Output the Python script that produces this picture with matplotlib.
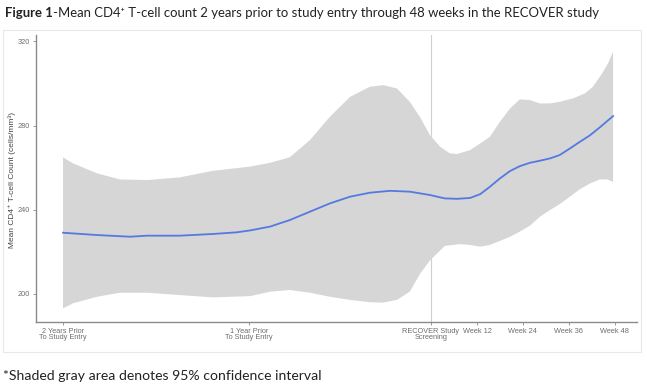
import matplotlib
matplotlib.use("Agg")
import matplotlib.pyplot as plt
from matplotlib.patches import Rectangle

# x positions in plot units (1 unit = 12 weeks on the study part of the axis)
tick_pos = [0, 4.05, 8, 9, 10, 11, 12]
tick_labels = ["2 Years Prior\nTo Study Entry", "1 Year Prior\nTo Study Entry",
               "RECOVER Study\nScreening", "Week 12", "Week 24", "Week 36", "Week 48"]
screening_pos = 8

mean_x = [0, 0.74, 1.46, 1.83, 2.54, 3.26, 3.78, 4.07, 4.50, 4.93, 5.37, 5.80, 6.24, 6.67,
          7.11, 7.54, 7.98, 8.30, 8.57, 8.85, 9.07, 9.28, 9.50, 9.72, 9.93, 10.15, 10.37,
          10.59, 10.80, 11.02, 11.24, 11.46, 11.67, 11.96]
mean_y = [229.1, 228.0, 227.2, 227.7, 227.7, 228.5, 229.3, 230.2, 232.0, 235.1, 239.1, 243.0,
          246.2, 248.1, 249.0, 248.6, 247.0, 245.4, 245.2, 245.6, 247.4, 250.9, 254.9, 258.4,
          260.7, 262.3, 263.3, 264.4, 266.0, 269.1, 272.3, 275.4, 279.1, 284.5]

upper_x = [0, 0.22, 0.74, 1.24, 1.83, 2.54, 3.26, 4.07, 4.50, 4.93, 5.37, 5.80, 6.24, 6.67,
           6.96, 7.26, 7.54, 7.76, 7.98, 8.20, 8.41, 8.57, 8.85, 9.07, 9.28, 9.50, 9.72, 9.93,
           10.15, 10.37, 10.59, 10.80, 11.09, 11.35, 11.52, 11.72, 11.85, 11.96]
upper_y = [264.9, 262.0, 257.3, 254.4, 254.1, 255.4, 258.5, 260.5, 262.3, 264.9, 273.1, 284.1,
           293.6, 298.4, 299.2, 297.6, 291.3, 284.1, 275.4, 269.9, 266.8, 266.5, 268.3, 271.5,
           274.6, 281.8, 288.1, 292.4, 292.1, 290.5, 290.5, 291.3, 292.9, 295.3, 298.4, 304.7,
           309.5, 315.0]

lower_x = [0, 0.22, 0.74, 1.24, 1.83, 2.54, 3.26, 4.07, 4.50, 4.93, 5.37, 5.80, 6.24, 6.67,
           6.96, 7.26, 7.54, 7.76, 7.98, 8.30, 8.63, 8.85, 9.07, 9.28, 9.50, 9.72, 9.93, 10.15,
           10.37, 10.59, 10.80, 11.02, 11.24, 11.46, 11.67, 11.83, 11.96]
lower_y = [193.2, 195.6, 198.7, 200.6, 200.6, 199.5, 198.4, 199.0, 201.1, 201.9, 200.6, 198.7,
           197.2, 196.1, 195.9, 197.2, 201.1, 209.5, 216.0, 222.8, 223.7, 223.3, 222.5, 223.3,
           225.2, 227.2, 229.6, 232.4, 236.7, 239.9, 242.7, 246.2, 249.8, 252.5, 254.4, 254.4,
           253.3]

fig = plt.figure(figsize=(6.47, 3.87), dpi=100)

# light frame around the embedded chart
fig.patches.append(Rectangle((3 / 647, 1 - 352 / 387), 638 / 647, 322 / 387,
                             transform=fig.transFigure, fill=False,
                             edgecolor="#e8e8e8", linewidth=0.8))

ax = fig.add_axes([36 / 647, 1 - 322 / 387, 601 / 647, 287 / 387])

# band: upper edge forward, lower edge back
band_x = upper_x + lower_x[::-1]
band_y = upper_y + lower_y[::-1]
ax.fill(band_x, band_y, color="#d6d6d6", linewidth=0)
ax.plot(mean_x, mean_y, color="#5479e0", linewidth=1.3, solid_joinstyle="round")
ax.axvline(screening_pos, color="#cfcfcf", linewidth=0.8, zorder=0)

ax.set_xlim(-0.587, 12.48)
ax.set_ylim(186.7, 323)
ax.set_yticks([200, 240, 280, 320])
ax.set_xticks(tick_pos)
ax.set_xticklabels(tick_labels, linespacing=0.9)
ax.tick_params(labelsize=5.3, colors="#8a8a8a", labelcolor="#6e6e6e", length=2, width=0.6, pad=2)
for lab in ax.get_xticklabels() + ax.get_yticklabels():
    lab.set_family("Liberation Sans")

for s in ["top", "right"]:
    ax.spines[s].set_visible(False)
for s in ["left", "bottom"]:
    ax.spines[s].set_color("#8a8a8a")
    ax.spines[s].set_linewidth(1.0)

fig.text(12 / 647, 1 - 180 / 387, "Mean CD4\u207a T-cell Count (cells/mm\u00b3)",
         rotation=90, ha="center", va="center", fontsize=6,
         family=["Liberation Sans", "DejaVu Sans"], color="#444444")

# title: bold prefix followed by regular text
t1 = fig.text(5 / 647, 1 - 13 / 387, "Figure 1", fontsize=9.45, fontweight="bold",
              family="Lato", va="center", color="#222222")
fig.canvas.draw()
bb = t1.get_window_extent(fig.canvas.get_renderer())
fig.text(bb.x1 / 647, 1 - 13 / 387,
         "-Mean CD4\u207a T-cell count 2 years prior to study entry through 48 weeks in the RECOVER study",
         fontsize=9.45, family="Lato", va="center", color="#222222")

fig.text(3 / 647, 1 - 376 / 387, "*Shaded gray area denotes 95% confidence interval",
         fontsize=10.1, family="Lato", va="center", color="#222222")

fig.savefig("out.png", dpi=100)
